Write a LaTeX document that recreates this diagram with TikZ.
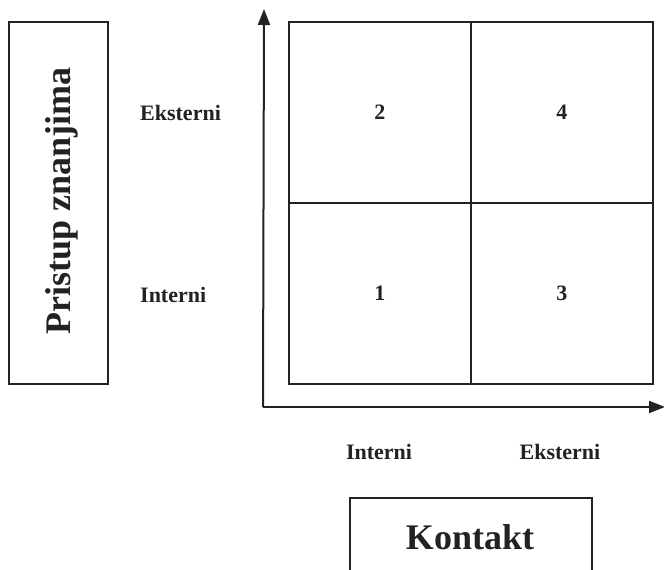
\documentclass[tikz,border=0pt]{standalone}
\usepackage{fontspec}
\setmainfont{Liberation Serif}
\usetikzlibrary{arrows.meta}
\definecolor{ink}{HTML}{222222}
\begin{document}
\begin{tikzpicture}[x=1pt,y=-1pt,
  boxline/.style={draw=ink,line width=1.8pt},
  cell/.style={draw=ink,line width=1.5pt,minimum width=182pt,minimum height=181pt,inner sep=0pt,anchor=north west,font=\bfseries\fontsize{22}{24}\selectfont,text=ink},
  lab/.style={font=\bfseries\fontsize{22}{24}\selectfont,text=ink,inner sep=0pt},
  big/.style={font=\bfseries\fontsize{36}{40}\selectfont,text=ink},
  axis/.style={draw=ink,line width=2pt,-{Triangle[length=16pt,width=12pt]}}]
\clip (0,0) rectangle (664,570);
\fill[white] (0,0) rectangle (664,570);
% left box
\node[boxline,minimum width=99pt,minimum height=362pt,inner sep=0pt,anchor=north west] (pzbox) at (8,21) {};
\node[big,rotate=90,inner sep=0pt] (pz) at (62,201) {Pristup znanjima};
% grid
\node[cell] (c2) at (288,21) {2};
\node[cell] (c4) at (470,21) {4};
\node[cell] (c1) at (288,202) {1};
\node[cell] (c3) at (470,202) {3};
% axes
\coordinate (o) at (263,407);
\coordinate (ytip) at (264,9);
\coordinate (xtip) at (665,407);
\draw[axis] (o) -- (ytip);
\draw[axis] (o) -- (xtip);
% row labels
\node[lab,anchor=west] (ye) at (140,113) {Eksterni};
\node[lab,anchor=west] (yi) at (140,295) {Interni};
% column labels
\node[lab] (xi) at (379,452) {Interni};
\node[lab] (xe) at (560,452) {Eksterni};
% Kontakt box
\node[boxline,minimum width=242pt,minimum height=100pt,inner sep=0pt,anchor=north west] (kbox) at (349,497) {};
\node[big] (k) at (470,537) {Kontakt};
\end{tikzpicture}
\end{document}
